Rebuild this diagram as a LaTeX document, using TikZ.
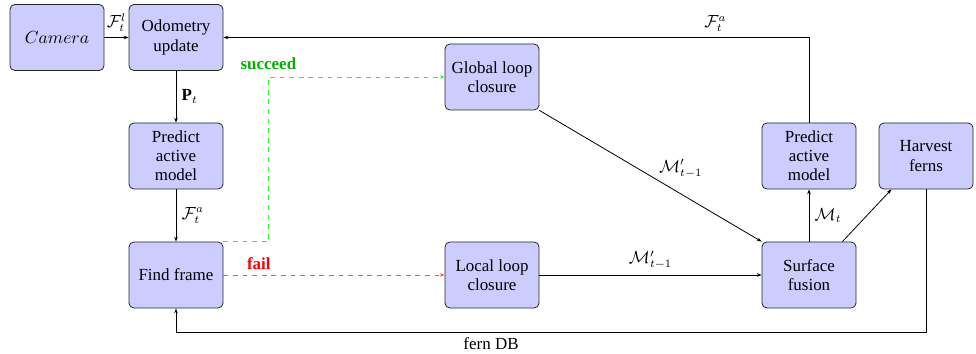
\documentclass[tikz,border=0pt]{standalone}
\usepackage{fontspec}
\setmainfont{Liberation Serif}
\usetikzlibrary{arrows.meta}
\begin{document}
\begin{tikzpicture}[x=0.625pt,y=-0.625pt,
  blk/.style={draw=black!85, fill=blue!20, rounded corners=3pt, line width=0.5pt,
    minimum width=58.75pt, minimum height=41.25pt, align=center, inner sep=2pt,
    font=\fontsize{10.6}{12}\selectfont},
  conn/.style={-{Stealth[length=3pt,width=2.2pt]}, line width=0.5pt},
  lbl/.style={font=\fontsize{10.6}{12}\selectfont}]
\useasboundingbox (0,0) rectangle (976,354);

% processing blocks
\node[blk] (cam) at (57,37.5)  {$Camera$};
\node[blk] (odo) at (176,37.5) {Odometry\\update};
\node[blk] (pal) at (176,156)  {Predict\\active\\model};
\node[blk] (ff)  at (176,275)  {Find frame};
\node[blk] (glc) at (492,77)   {Global loop\\closure};
\node[blk] (llc) at (492,275)  {Local loop\\closure};
\node[blk] (sf)  at (809,275)  {Surface\\fusion};
\node[blk] (par) at (809,156)  {Predict\\active\\model};
\node[blk] (hf)  at (926,156)  {Harvest\\ferns};
\coordinate (db) at (0,332);

% main tracking chain
\draw[conn] (cam) -- node[above, lbl] {$\mathcal{F}_t^l$} (odo);
\draw[conn] (odo) -- node[right, lbl] {$\mathbf{P}_t$} (pal);
\draw[conn] (pal) -- node[right, lbl] {$\mathcal{F}_t^a$} (ff);

% loop closure branches
\draw[conn, dashed, green!90] (ff.north east) -- ++(45,0) |-
  node[pos=0.5, above=1pt, text=green!70!black, lbl, font=\fontsize{10.6}{12}\selectfont\bfseries] {succeed} (glc.west);
\draw[conn, dashed, red!70] (ff) --
  node[pos=0.16, above, text=red, font=\fontsize{10.6}{12}\selectfont\bfseries] {fail} (llc);

% model updates
\draw[conn] (glc.south east) --
  node[pos=0.53, anchor=south west, inner sep=1pt, lbl] {$\mathcal{M}'_{t-1}$} (sf.north west);
\draw[conn] (llc) -- node[above, lbl] {$\mathcal{M}'_{t-1}$} (sf);
\draw[conn] (sf) -- node[right, lbl] {$\mathcal{M}_t$} (par);
\draw[conn] (sf.45) -- (hf.224);

% feedback loops
\draw[conn] (par) |- node[pos=0.58, above, lbl] {$\mathcal{F}_t^a$} (odo);
\draw[conn] (hf) -- (hf |- db) -| node[pos=0.29, below, lbl] {fern DB} (ff);
\end{tikzpicture}
\end{document}
